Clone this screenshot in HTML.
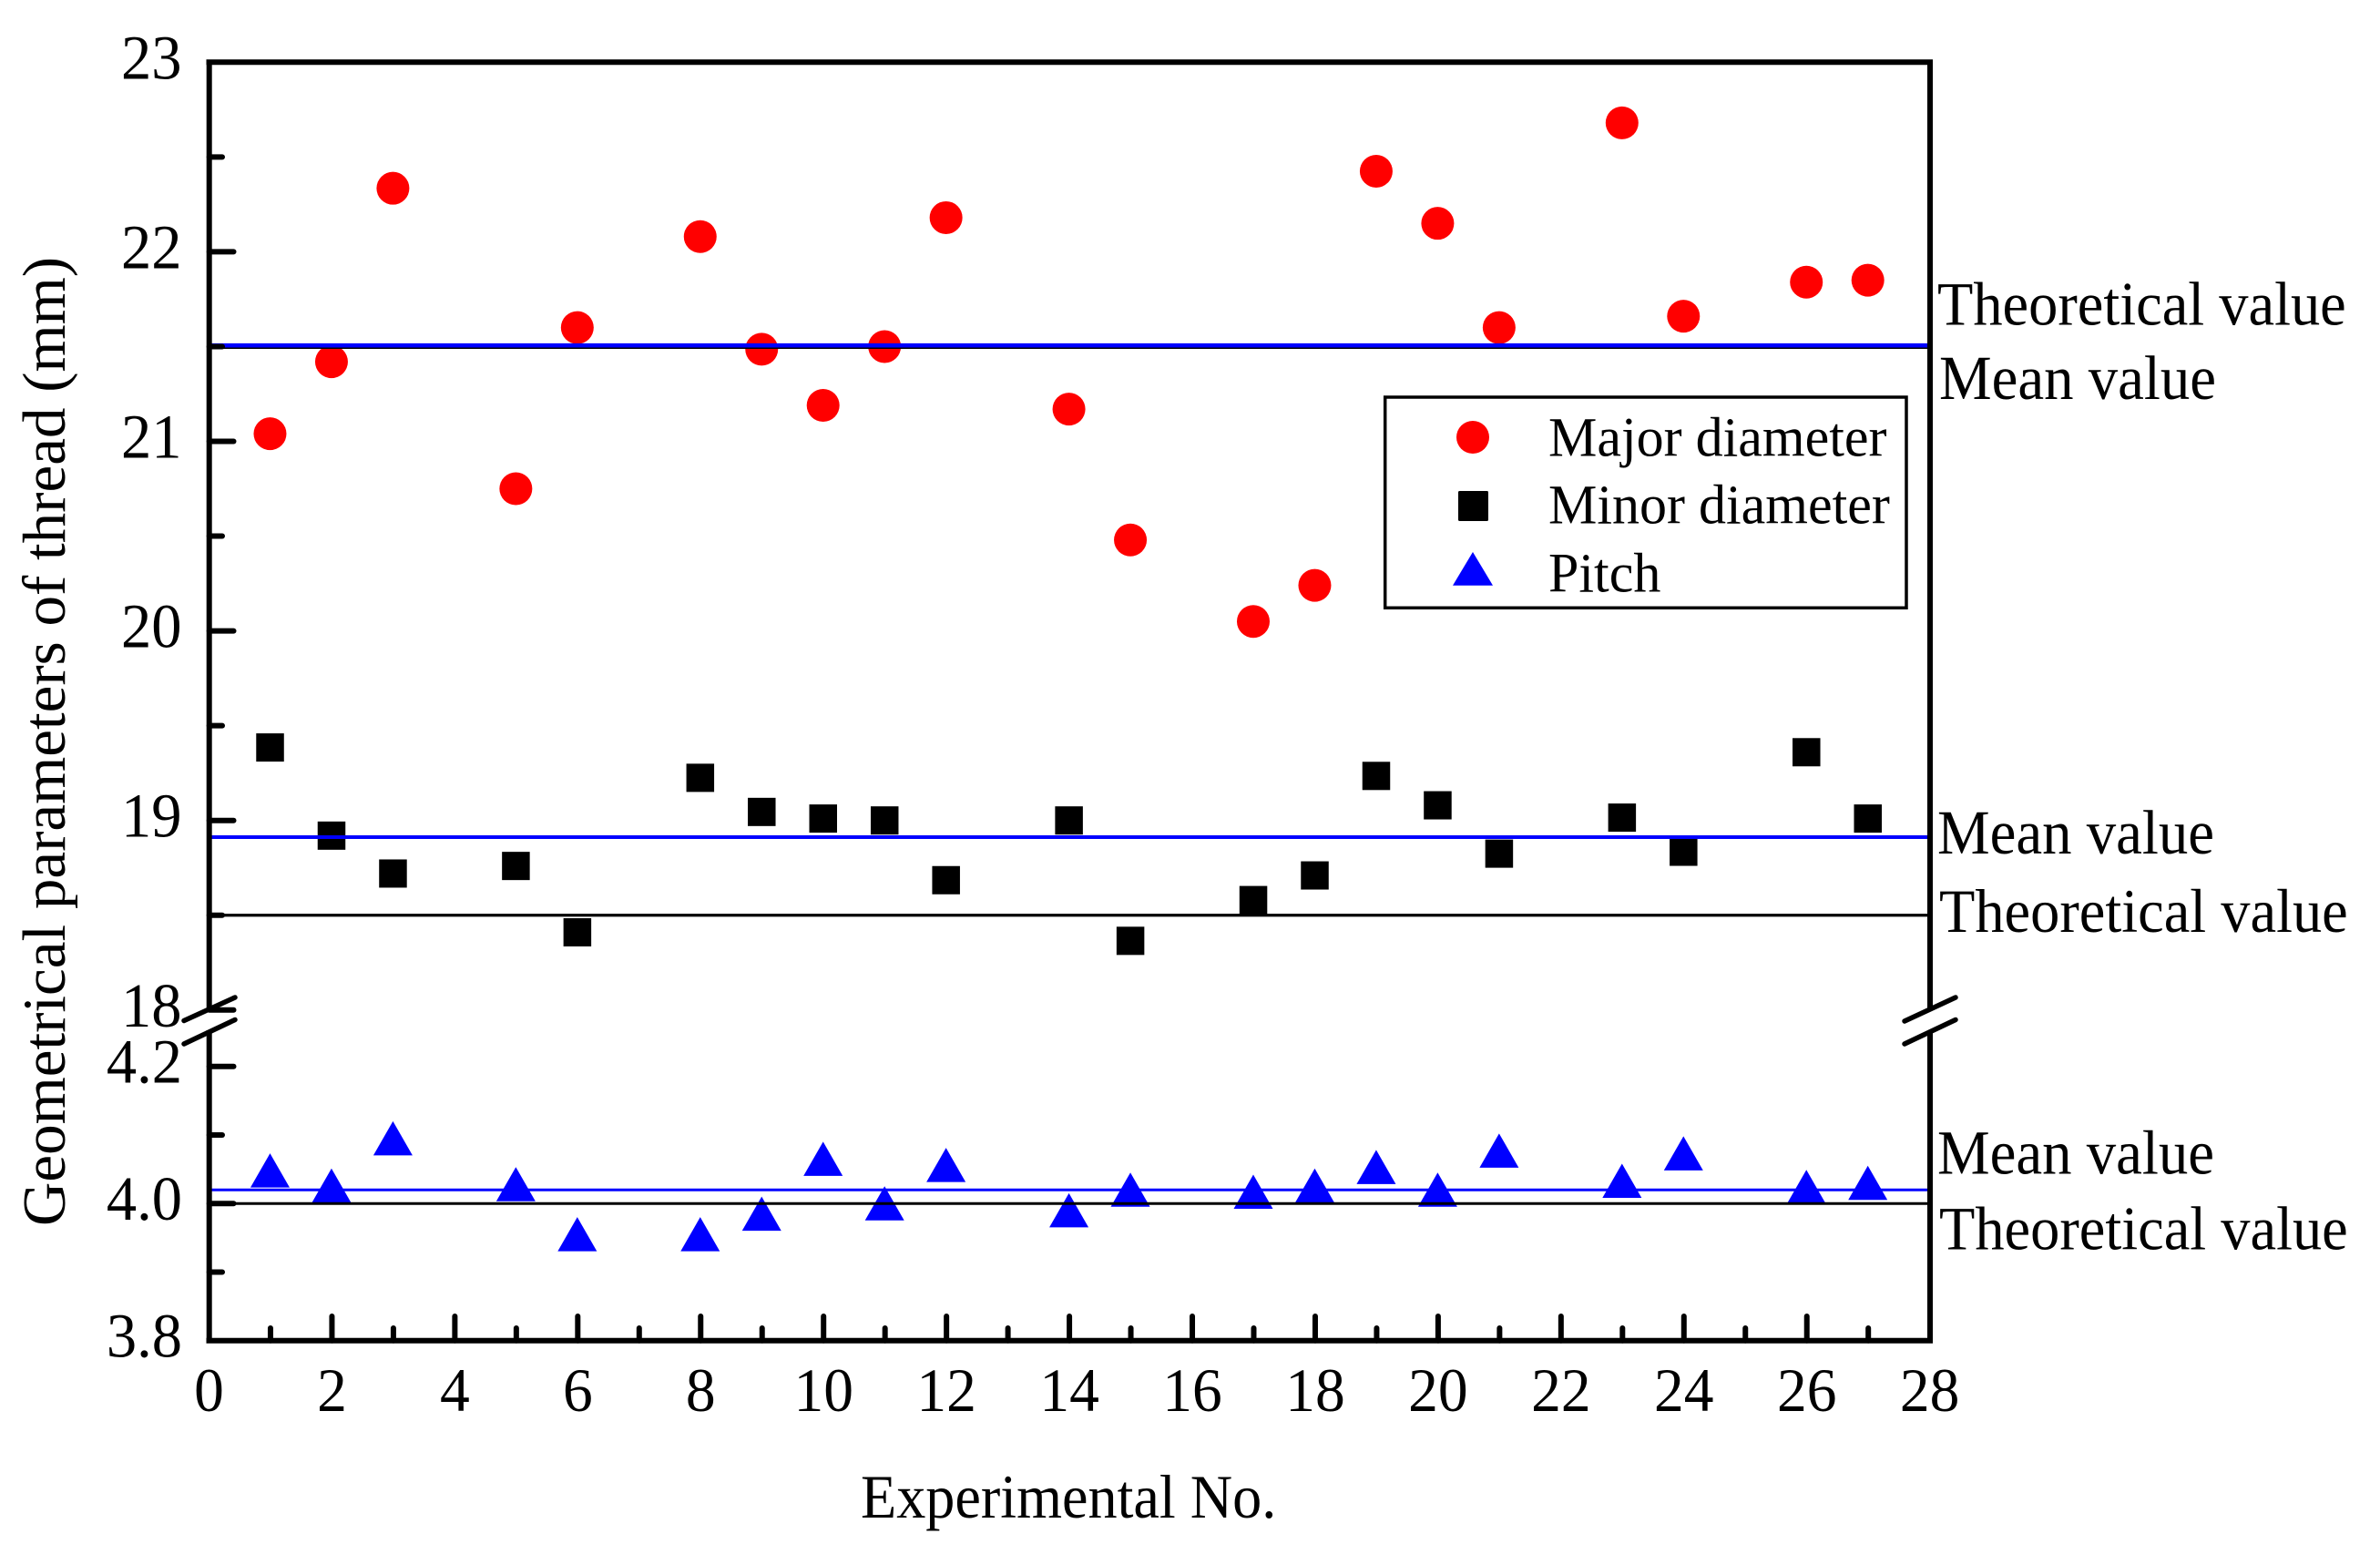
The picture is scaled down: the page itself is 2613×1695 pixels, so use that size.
<!DOCTYPE html>
<html lang="en">
<head>
<meta charset="utf-8">
<title>Geometrical parameters of thread</title>
<style>
html,body{margin:0;padding:0;background:#fff;}
svg{display:block;}
text{font-family:"Liberation Serif","DejaVu Serif",serif;fill:#000;}
</style>
</head>
<body>
<svg id="chart" xmlns="http://www.w3.org/2000/svg" width="2613" height="1695" viewBox="0 0 2613 1695">
  <rect x="0" y="0" width="2613" height="1695" fill="#fff"/>
  <g id="marks"></g>
  <g id="reflines"></g>
  <g id="axes" stroke="#000" stroke-width="6" fill="none">
    <line x1="226.5" y1="68.3" x2="2122" y2="68.3"/>
    <line x1="226.5" y1="1471.7" x2="2122" y2="1471.7"/>
    <line x1="229.7" y1="68.3" x2="229.7" y2="1109"/>
    <line x1="229.7" y1="1131" x2="229.7" y2="1474"/>
    <line x1="2119" y1="68.3" x2="2119" y2="1108"/>
    <line x1="2119" y1="1132" x2="2119" y2="1474"/>
    <g stroke-linecap="round" stroke-width="5.5">
      <line x1="202" y1="1120.5" x2="258" y2="1095"/>
      <line x1="202" y1="1146" x2="258" y2="1119.5"/>
    </g>
    <g stroke-linecap="round" stroke-width="5.5">
      <line x1="2091" y1="1121" x2="2147" y2="1095"/>
      <line x1="2091" y1="1146" x2="2147" y2="1119.5"/>
    </g>
  </g>
  <g id="ticks"></g>
  <g id="ticklabels"></g>

  <text font-size="64.2" transform="translate(945,1666) scale(1,1.06)">Experimental No.</text>
  <text font-size="67" transform="translate(71,1346) rotate(-90)">Geometrical parameters of thread (mm)</text>

  <text font-size="64.4" transform="translate(2127,356.7) scale(1,1.06)">Theoretical value</text>
  <text font-size="64.8" transform="translate(2129,438) scale(1,1.06)">Mean value</text>
  <text font-size="64.8" transform="translate(2127,937) scale(1,1.06)">Mean value</text>
  <text font-size="64.4" transform="translate(2129,1023) scale(1,1.06)">Theoretical value</text>
  <text font-size="64.8" transform="translate(2127,1288.7) scale(1,1.06)">Mean value</text>
  <text font-size="64.4" transform="translate(2129,1371.7) scale(1,1.06)">Theoretical value</text>

  <g>
    <rect x="1520.7" y="436" width="572.3" height="231.3" fill="#fff" stroke="#000" stroke-width="3.5"/>
    <circle cx="1617" cy="480" r="18" fill="#f00"/>
    <rect x="1601" y="539" width="33" height="33" rx="1.5" fill="#000"/>
    <polygon points="1617,606 1639,642.7 1595,642.7" fill="#00f"/>
    <text font-size="60" transform="translate(1700,500.7) scale(1,1.025)">Major diameter</text>
    <text font-size="60" transform="translate(1700,574.7) scale(1,1.025)">Minor diameter</text>
    <text font-size="60" transform="translate(1700,649.3) scale(1,1.025)">Pitch</text>
  </g>
</svg>

<script>
// ---- chart data ----
const experiments = [1,2,3,5,6,8,9,10,11,12,14,15,17,18,19,20,21,23,24,26,27];
const majorDiameter = [21.04,21.42,22.335,20.75,21.6,22.08,21.486,21.19,21.5,22.18,21.17,20.48,20.05,20.24,22.425,22.15,21.6,22.68,21.66,21.84,21.85];
const minorDiameter = [19.385,18.92,18.72,18.76,18.41,19.225,19.045,19.01,19.0,18.685,19.0,18.365,18.58,18.71,19.235,19.08,18.825,19.015,18.835,19.36,19.01];
const pitchValues = [4.048,4.026,4.095,4.028,3.955,3.955,3.985,4.065,4.0,4.056,3.99,4.02,4.017,4.026,4.053,4.02,4.077,4.033,4.073,4.024,4.03];
const xTickLabels = ['0','2','4','6','8','10','12','14','16','18','20','22','24','26','28'];
const xMinorTicks = [1,3,5,7,9,11,13,15,17,19,21,23,25,27];
const upperTickLabels = ['23','22','21','20','19','18'];
const upperMinorTicks = [22.5,21.5,20.5,19.5,18.5];
const lowerTickLabels = ['4.2','4.0','3.8'];
const lowerMinorTicks = [4.1,3.9];
const majorTheoretical = 21.5;
const majorMean = 21.506;
const minorTheoretical = 18.5;
const minorMean = 18.912;
const pitchTheoretical = 4.0;
const pitchMean = 4.02;

// ---- axis functions ----
function xPos(v){ return 229.5 + v * 67.47; }
function yUpper(v){ return 68.3 + (23 - v) * 208.1; }
function yLower(v){ return 1321.3 - (v - 4) * 752.5; }

const NS = 'http://www.w3.org/2000/svg';
function make(tag, attrs, parent){
  const node = document.createElementNS(NS, tag);
  for (const k in attrs) node.setAttribute(k, attrs[k]);
  parent.appendChild(node);
  return node;
}
const marksG = document.getElementById('marks');
const refG = document.getElementById('reflines');
const ticksG = document.getElementById('ticks');
const labelsG = document.getElementById('ticklabels');

// markers
experiments.forEach(function(n, i){
  const el = make('circle', {cx: xPos(n) - 0.5, cy: yUpper(majorDiameter[i]), r: 18, fill: '#f00'}, marksG);
  
  
});
experiments.forEach(function(n, i){
  const cx = xPos(n) - 0.5, cy = yUpper(minorDiameter[i]);
  const el = make('rect', {x: cx - 15.2, y: cy - 15.5, width: 30.5, height: 31, fill: '#000'}, marksG);
  
  
});
experiments.forEach(function(n, i){
  const cx = xPos(n) - 0.5, cy = yLower(pitchValues[i]);
  const pts = cx + ',' + (cy - 19) + ' ' + (cx + 21.5) + ',' + (cy + 18.5) + ' ' + (cx - 21.5) + ',' + (cy + 18.5);
  const el = make('polygon', {points: pts, fill: '#00f'}, marksG);
  
  
});

// reference lines
function refLine(y, color, width, name){
  const el = make('line', {x1: 229.5, x2: 2120, y1: y, y2: y, stroke: color, 'stroke-width': width}, refG);
  
  
}
refLine(yUpper(majorTheoretical), '#000', 5, 'major-theoretical-line');
refLine(yUpper(majorMean), '#00f', 4.7, 'major-mean-line');
refLine(yUpper(minorTheoretical), '#000', 3.2, 'minor-theoretical-line');
refLine(yUpper(minorMean), '#00f', 4, 'minor-mean-line');
refLine(yLower(pitchTheoretical), '#000', 3, 'pitch-theoretical-line');
refLine(yLower(pitchMean), '#00f', 3, 'pitch-mean-line');

// ticks
function yTick(y, end, name){
  const el = make('line', {x1: 229.7, x2: end, y1: y, y2: y, stroke: '#000', 'stroke-width': 6, 'stroke-linecap': 'round'}, ticksG);
  
  
}
function xTick(x, end, name){
  const el = make('line', {x1: x, x2: x, y1: 1471.7, y2: end, stroke: '#000', 'stroke-width': 6, 'stroke-linecap': 'round'}, ticksG);
  
  
}
upperTickLabels.forEach(function(t){
  const v = parseFloat(t);
  if (v !== 23) yTick(yUpper(v), 256.5, 'y-upper-major-tick-' + t);
  const el = make('text', {'font-size': 66.5, 'text-anchor': 'end', transform: 'translate(199.5,' + (yUpper(v) + 18) + ') scale(1,1.03)'}, labelsG);
  el.textContent = t;
  
  
});
upperMinorTicks.forEach(function(v){
  yTick(yUpper(v), 244, 'y-upper-minor-tick-' + v);
});
lowerTickLabels.forEach(function(t){
  const v = parseFloat(t);
  if (t !== '3.8') yTick(yLower(v), 256.5, 'y-lower-major-tick-' + t);
  const el = make('text', {'font-size': 66.5, 'text-anchor': 'end', transform: 'translate(200,' + (yLower(v) + 17.5) + ') scale(1,1.03)'}, labelsG);
  el.textContent = t;
  
  
});
lowerMinorTicks.forEach(function(v){
  yTick(yLower(v), 244, 'y-lower-minor-tick-' + v);
});
xTickLabels.forEach(function(t){
  const v = parseFloat(t);
  if (v !== 0 && v !== 28) xTick(xPos(v), 1445, 'x-major-tick-' + t);
  const el = make('text', {'font-size': 65.5, 'text-anchor': 'middle', transform: 'translate(' + xPos(v) + ',1549) scale(1,1.03)'}, labelsG);
  el.textContent = t;
  
  
});
xMinorTicks.forEach(function(v){
  xTick(xPos(v), 1458, 'x-minor-tick-' + v);
});
</script>
</body>
</html>
